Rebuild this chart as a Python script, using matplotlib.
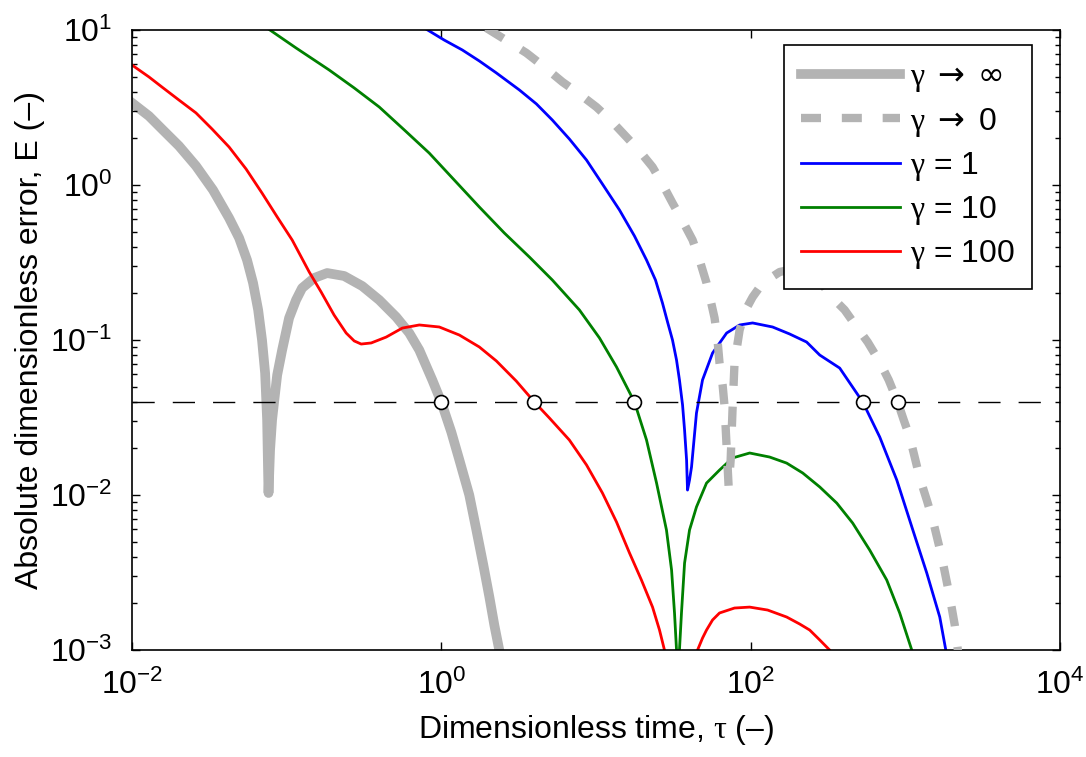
import matplotlib
matplotlib.use("Agg")
import numpy as np
import matplotlib.pyplot as plt
from matplotlib.ticker import LogLocator, NullLocator

plt.rcParams["font.family"] = ["Liberation Sans", "DejaVu Sans"]
plt.rcParams["mathtext.fontset"] = "custom"
plt.rcParams["mathtext.rm"] = "Liberation Sans"
plt.rcParams["mathtext.it"] = "Liberation Serif"
plt.rcParams["mathtext.sf"] = "DejaVu Sans"

# values, in decades: log10(tau), log10(E)
lt_inf = [-2.0, -1.89, -1.806, -1.696, -1.586, -1.476, -1.372, -1.307, -1.256, -1.217,
          -1.184, -1.159, -1.139, -1.126, -1.12, -1.117, -1.107, -1.094, -1.081, -1.061,
          -1.029, -0.984, -0.939, -0.9, -0.822, -0.738, -0.628, -0.511, -0.401, -0.291,
          -0.207, -0.142, -0.058, 0.0, 0.065, 0.117, 0.181, 0.227, 0.272, 0.311, 0.343,
          0.375, 0.401]
lE_inf = [0.53, 0.445, 0.361, 0.252, 0.123, -0.032, -0.213, -0.342, -0.484, -0.632,
          -0.806, -1.0, -1.213, -1.516, -1.839, -1.987, -1.71, -1.516, -1.4, -1.226,
          -1.065, -0.858, -0.742, -0.665, -0.6, -0.568, -0.587, -0.652, -0.742, -0.852,
          -0.955, -1.065, -1.258, -1.4, -1.594, -1.774, -2.0, -2.226, -2.452, -2.658, -2.839,
          -3.0, -3.161]

lt_zero = [0.291, 0.427, 0.55, 0.667, 0.783, 0.893, 1.003, 1.1, 1.197, 1.282, 1.366, 1.43,
           1.495, 1.56, 1.625, 1.67, 1.715, 1.741, 1.767, 1.786, 1.799, 1.819, 1.832, 1.845,
           1.858, 1.871, 1.883, 1.896, 1.929, 1.968, 2.013, 2.078, 2.188, 2.317, 2.414, 2.531,
           2.608, 2.686, 2.757, 2.835, 2.893, 2.951, 2.99, 3.029, 3.094, 3.139, 3.178, 3.236,
           3.288, 3.32, 3.34, 3.359]
lE_zero = [1.013, 0.929, 0.852, 0.761, 0.665, 0.587, 0.503, 0.413, 0.31, 0.219, 0.116, 0.006,
           -0.116, -0.232, -0.355, -0.484, -0.632, -0.742, -0.858, -1.0, -1.148, -1.29, -1.432,
           -1.69, -1.948, -1.774, -1.452, -1.148, -0.935, -0.806, -0.723, -0.632, -0.561,
           -0.535, -0.581, -0.729, -0.806, -0.916, -1.013, -1.142, -1.258, -1.4, -1.516,
           -1.626, -1.89, -2.032, -2.161, -2.4, -2.658, -2.839, -3.0, -3.129]

lt_g1 = [-0.11, 0.019, 0.136, 0.246, 0.356, 0.505, 0.615, 0.718, 0.828, 0.939, 1.042, 1.152,
         1.249, 1.327, 1.385, 1.43, 1.463, 1.495, 1.521, 1.54, 1.56, 1.573, 1.586, 1.592,
         1.605, 1.618, 1.65, 1.689, 1.754, 1.845, 1.929, 2.013, 2.142, 2.252, 2.362, 2.447,
         2.576, 2.725, 2.835, 2.945, 3.049, 3.139, 3.223, 3.262, 3.282]
lE_g1 = [1.013, 0.935, 0.871, 0.8, 0.723, 0.613, 0.523, 0.419, 0.297, 0.161, 0.006, -0.161,
         -0.329, -0.484, -0.613, -0.761, -0.884, -1.0, -1.129, -1.258, -1.419, -1.581, -1.774,
         -1.968, -1.903, -1.819, -1.471, -1.258, -1.084, -0.955, -0.903, -0.89, -0.916,
         -0.961, -1.013, -1.097, -1.181, -1.4, -1.626, -1.903, -2.226, -2.503, -2.787, -3.0,
         -3.097]

lt_g10 = [-1.146, -0.939, -0.725, -0.563, -0.401, -0.239, -0.078, 0.084, 0.246, 0.408, 0.57,
          0.718, 0.893, 1.023, 1.133, 1.249, 1.327, 1.392, 1.456, 1.489, 1.508, 1.521, 1.528,
          1.534, 1.54, 1.553, 1.573, 1.605, 1.65, 1.715, 1.799, 1.883, 1.994, 2.123, 2.233,
          2.337, 2.447, 2.557, 2.66, 2.77, 2.88, 2.964, 3.042, 3.068]
lE_g10 = [1.026, 0.884, 0.742, 0.626, 0.503, 0.355, 0.206, 0.032, -0.142, -0.31, -0.465,
          -0.613, -0.806, -0.987, -1.174, -1.4, -1.645, -1.923, -2.226, -2.484, -2.761, -3.0,
          -3.129, -3.129, -3.0, -2.761, -2.439, -2.226, -2.077, -1.923, -1.839, -1.761,
          -1.729, -1.755, -1.794, -1.858, -1.948, -2.052, -2.181, -2.355, -2.548, -2.761,
          -3.0, -3.097]

lt_g100 = [-2.0, -1.89, -1.806, -1.696, -1.586, -1.482, -1.372, -1.262, -1.159, -1.061, -0.964,
           -0.854, -0.777, -0.693, -0.615, -0.563, -0.518, -0.453, -0.356, -0.252, -0.142,
           -0.013, 0.117, 0.246, 0.356, 0.485, 0.602, 0.699, 0.828, 0.939, 1.042, 1.133, 1.217,
           1.294, 1.366, 1.411, 1.443, 1.463, 1.638, 1.657, 1.689, 1.715, 1.754, 1.799, 1.896,
           1.994, 2.11, 2.233, 2.317, 2.382, 2.447, 2.511, 2.563]
lE_g100 = [0.774, 0.697, 0.632, 0.548, 0.465, 0.361, 0.245, 0.103, -0.052, -0.206, -0.355,
           -0.561, -0.69, -0.839, -0.955, -1.006, -1.026, -1.019, -0.981, -0.923, -0.903,
           -0.916, -0.968, -1.045, -1.135, -1.265, -1.4, -1.503, -1.645, -1.806, -1.987, -2.174,
           -2.374, -2.548, -2.723, -2.871, -3.0, -3.097, -3.097, -3.0, -2.923, -2.871, -2.806,
           -2.761, -2.729, -2.723, -2.742, -2.787, -2.832, -2.871, -2.935, -3.0, -3.065]

threshold = 0.04
tau_cross = [1.0, 4.0, 17.7, 531, 893]

gray = "#b3b3b3"

fig = plt.figure(figsize=(10.86, 7.57), dpi=100)
ax = fig.add_axes([0.1215, 0.1413, 0.8545, 0.8191])


def p10(v):
    return 10.0 ** np.asarray(v)


h_inf, = ax.plot(p10(lt_inf), p10(lE_inf), color=gray, lw=7, solid_joinstyle="round",
                 zorder=1, label=r"$\gamma\ \mathsf{\rightarrow}\ \mathsf{\infty}$")
h1, = ax.plot(p10(lt_g1), p10(lE_g1), color="#0000ff", lw=2, zorder=2,
              label=r"$\gamma$ = 1")
h10, = ax.plot(p10(lt_g10), p10(lE_g10), color="#008000", lw=2, zorder=2,
               label=r"$\gamma$ = 10")
h100, = ax.plot(p10(lt_g100), p10(lE_g100), color="#ff0000", lw=2, zorder=2,
                label=r"$\gamma$ = 100")
h0, = ax.plot(p10(lt_zero), p10(lE_zero), color=gray, lw=6, dashes=(2.4, 2.5),
              dash_capstyle="butt", zorder=3, label=r"$\gamma\ \mathsf{\rightarrow}$ 0")

ax.axhline(threshold, color="black", lw=1, dashes=(16, 13), zorder=4)
ax.plot(tau_cross, [threshold] * len(tau_cross), "o", ms=10, mfc="white",
        mec="black", mew=1.2, zorder=5)

ax.set_xscale("log")
ax.set_yscale("log")
ax.set_xlim(1e-2, 1e4)
ax.set_ylim(1e-3, 1e1)
ax.set_xticks([1e-2, 1e0, 1e2, 1e4])
ax.xaxis.set_minor_locator(NullLocator())
ax.yaxis.set_major_locator(LogLocator(base=10))
ax.yaxis.set_minor_locator(LogLocator(base=10, subs=range(2, 10)))

ax.tick_params(which="both", direction="in", top=True, right=True, labelsize=23, pad=14)
ax.tick_params(which="major", length=6, width=1)
ax.tick_params(which="minor", length=3.5, width=1)
for s in ax.spines.values():
    s.set_linewidth(1.2)

ax.set_xlabel(r"Dimensionless time, $\tau$ (–)", fontsize=23, labelpad=9)
ax.set_ylabel("Absolute dimensionless error, E (–)", fontsize=23, labelpad=4)

leg = ax.legend(handles=[h_inf, h0, h1, h10, h100], loc="upper right",
                bbox_to_anchor=(0.970, 0.976), borderaxespad=0, fontsize=23,
                handlelength=3.1, handletextpad=0.3, labelspacing=0.35,
                borderpad=0.55, fancybox=False, framealpha=1, edgecolor="black")
leg.get_frame().set_linewidth(1.2)

fig.savefig("out.png", dpi=100)
